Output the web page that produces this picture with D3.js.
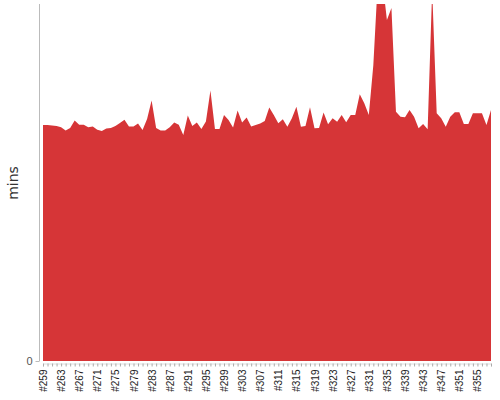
<!DOCTYPE html>
<html>
<head>
<meta charset="utf-8">
<script src="https://cdn.jsdelivr.net/npm/d3@7"></script>
<style>
body{margin:0;background:#fff}
svg{font-family:"DejaVu Sans",sans-serif}
</style>
</head>
<body>
<div id="chart"></div>
<script>
var width = 500
var height = 400
var areaColor = "#d63537"
var axisColor = "#bbbbbb"

// build numbers #259 .. #358
var firstBuild = 259
var buildMins = [6.61,6.61,6.60,6.58,6.55,6.46,6.53,6.74,6.62,6.62,
	6.55,6.57,6.48,6.44,6.51,6.53,6.58,6.67,6.76,6.57,
	6.57,6.65,6.47,6.78,7.30,6.53,6.46,6.46,6.55,6.68,
	6.62,6.33,6.88,6.58,6.68,6.50,6.71,7.58,6.50,6.50,
	6.89,6.75,6.54,7.02,6.68,6.82,6.57,6.61,6.65,6.72,
	7.10,6.89,6.66,6.77,6.56,6.80,7.12,6.56,6.58,7.11,
	6.52,6.53,6.96,6.63,6.80,6.70,6.89,6.69,6.89,6.89,
	7.47,7.22,6.89,8.29,10.67,10.67,9.55,9.89,6.98,6.84,
	6.83,7.03,6.84,6.52,6.64,6.49,10.39,6.94,6.80,6.56,
	6.84,6.97,6.97,6.64,6.64,6.94,6.94,6.94,6.61,7.03]
var builds = buildMins.map(function(d,i){ return "#"+(firstBuild+i) })
var yMax = 10
var yTicks = [0]
var yLabel = "mins"

var margin = {left:43, right:9, top:4, bottom:39}
var x0 = margin.left
var x1 = width-margin.right
var yBottom = height-margin.bottom

var svg = d3.select("#chart").append("svg")
	.attr("width",width)
	.attr("height",height)

var x = d3.scaleLinear().domain([0,buildMins.length-1]).range([x0,x1])
var y = d3.scaleLinear().domain([0,yMax]).range([yBottom,margin.top])

svg.append("defs").append("clipPath")
	.attr("id","plotClip")
	.append("rect")
	.attr("x",x0-1)
	.attr("y",margin.top)
	.attr("width",x1-x0+2)
	.attr("height",yBottom-margin.top)

var area = d3.area()
	.x(function(d,i){ return x(i) })
	.y0(y(0))
	.y1(function(d){ return y(d) })

svg.append("path")
	.datum(buildMins)
	.attr("clip-path","url(#plotClip)")
	.attr("fill",areaColor)
	.attr("d",area)

// y axis
var yAxis = d3.axisLeft(y).tickValues(yTicks).tickSize(4).tickPadding(3)
var gy = svg.append("g")
	.attr("transform","translate(39.5,0)")
	.call(yAxis)
gy.select(".domain").attr("d","M0,"+margin.top+"V"+yBottom).attr("stroke",axisColor)
gy.selectAll(".tick line").attr("stroke",axisColor)
gy.selectAll(".tick text").attr("fill","#555").style("font-size","11px").attr("dy","0.3em")

svg.append("text")
	.attr("transform","translate(18,"+183+") rotate(-90)")
	.attr("text-anchor","middle")
	.attr("fill","#333")
	.style("font-size","14px")
	.text(yLabel)

// x axis: small tick per build, label every 4th
var xAxis = d3.axisBottom(x)
	.tickValues(d3.range(buildMins.length))
	.tickSize(3)
	.tickFormat(function(i){ return i%4==0 ? builds[i] : "" })
var gx = svg.append("g")
	.attr("transform","translate(0,"+(yBottom+2.5)+")")
	.call(xAxis)
gx.select(".domain").attr("stroke","#ddd")
gx.selectAll(".tick line").attr("stroke","#aaa")
gx.selectAll(".tick text")
	.attr("fill","#222")
	.style("font-size","10px")
	.attr("text-anchor","end")
	.attr("transform","rotate(-90)")
	.attr("x",-6)
	.attr("y",0)
	.attr("dy","0.35em")
</script>
</body>
</html>
